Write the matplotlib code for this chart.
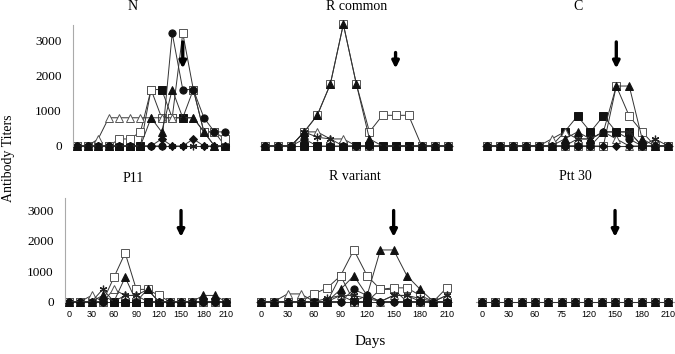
import matplotlib
matplotlib.use("Agg")
import matplotlib.pyplot as plt

days = list(range(0, 211, 15))
titles = ["N", "R common", "C", "P11", "R variant", "Ptt 30"]
yticks = [0, 1000, 2000, 3000]
xtick_pos = [0, 30, 60, 90, 120, 150, 180, 210]
xtick_labels = ["0", "30", "60", "90", "120", "150", "180", "210"]
xtick_labels_ptt = ["0", "30", "60", "75", "120", "150", "180", "210"]
boost_day = 150

# series per panel: filled square, open square, open triangle, asterisk, filled circle, diamond, filled triangle
N_fsq = [0, 0, 0, 0, 0, 0, 0, 1600, 1600, 800, 800, 1600, 400, 400, 0]
N_osq = [0, 0, 0, 0, 200, 200, 400, 1600, 800, 800, 3200, 1600, 400, 400, 200]
N_otr = [0, 0, 200, 800, 800, 800, 800, 800, 800, 800, 800, 800, 400, 0, 0]
N_ast = [0, 0, 0, 0, 0, 0, 0, 0, 0, 0, 0, 0, 0, 0, 0]
N_fci = [0, 0, 0, 0, 0, 0, 0, 0, 0, 3200, 1600, 1600, 800, 400, 400]
N_dia = [0, 0, 0, 0, 0, 0, 0, 0, 200, 0, 0, 200, 0, 0, 0]
N_ftr = [0, 0, 0, 0, 0, 0, 0, 800, 400, 1600, 800, 800, 400, 0, 0]

RC_fsq = [0, 0, 0, 0, 0, 0, 0, 0, 0, 0, 0, 0, 0, 0, 0]
RC_osq = [0, 0, 0, 400, 870, 1750, 3450, 1750, 400, 870, 870, 870, 0, 0, 0]
RC_otr = [0, 0, 0, 400, 400, 200, 200, 0, 0, 0, 0, 0, 0, 0, 0]
RC_ast = [0, 0, 0, 400, 250, 200, 0, 0, 0, 0, 0, 0, 0, 0, 0]
RC_fci = [0, 0, 0, 200, 0, 0, 0, 0, 0, 0, 0, 0, 0, 0, 0]
RC_dia = [0, 0, 0, 0, 0, 0, 0, 0, 0, 0, 0, 0, 0, 0, 0]
RC_ftr = [0, 0, 0, 400, 870, 1750, 3450, 1750, 200, 0, 0, 0, 0, 0, 0]

C_fsq = [0, 0, 0, 0, 0, 0, 400, 850, 400, 850, 400, 400, 0, 0, 0]
C_osq = [0, 0, 0, 0, 0, 0, 0, 0, 0, 0, 1700, 850, 400, 0, 0]
C_otr = [0, 0, 0, 0, 0, 200, 400, 200, 200, 400, 200, 0, 0, 0, 0]
C_ast = [0, 0, 0, 0, 0, 0, 0, 200, 200, 400, 400, 400, 0, 200, 0]
C_fci = [0, 0, 0, 0, 0, 0, 0, 0, 0, 400, 400, 200, 0, 0, 0]
C_dia = [0, 0, 0, 0, 0, 0, 0, 0, 0, 0, 0, 0, 0, 0, 0]
C_ftr = [0, 0, 0, 0, 0, 0, 200, 400, 200, 400, 1700, 1700, 200, 0, 0]

P_fsq = [0, 0, 0, 0, 0, 0, 0, 0, 0, 0, 0, 0, 0, 0, 0]
P_osq = [0, 0, 0, 0, 800, 1600, 400, 400, 200, 0, 0, 0, 0, 0, 0]
P_otr = [0, 0, 200, 0, 400, 200, 200, 400, 0, 0, 0, 0, 0, 0, 0]
P_ast = [0, 0, 0, 400, 0, 200, 200, 0, 0, 0, 0, 0, 0, 0, 0]
P_fci = [0, 0, 0, 0, 0, 0, 0, 0, 0, 0, 0, 0, 0, 0, 0]
P_dia = [0, 0, 0, 0, 0, 0, 0, 0, 0, 0, 0, 0, 0, 0, 0]
P_ftr = [0, 0, 0, 200, 0, 800, 0, 400, 0, 0, 0, 0, 200, 200, 0]

RV_fsq = [0, 0, 0, 0, 0, 0, 850, 0, 0, 400, 400, 0, 0, 0, 0]
RV_osq = [0, 0, 0, 0, 250, 450, 850, 1700, 850, 400, 450, 450, 200, 0, 450]
RV_otr = [0, 0, 250, 250, 0, 0, 200, 0, 200, 0, 200, 200, 0, 0, 200]
RV_ast = [0, 0, 0, 0, 0, 100, 200, 200, 100, 0, 200, 200, 100, 0, 200]
RV_fci = [0, 0, 0, 0, 0, 0, 0, 400, 200, 0, 0, 0, 0, 0, 0]
RV_dia = [0, 0, 0, 0, 0, 0, 0, 0, 0, 0, 0, 0, 0, 0, 0]
RV_ftr = [0, 0, 0, 0, 0, 0, 400, 850, 200, 1700, 1700, 850, 400, 0, 0]

PT_fsq = [0] * 15
PT_osq = [0] * 15
PT_otr = [0] * 15
PT_ast = [0] * 15
PT_fci = [0] * 15
PT_dia = [0] * 15
PT_ftr = [0] * 15

panels = [
    [N_fsq, N_osq, N_otr, N_ast, N_fci, N_dia, N_ftr],
    [RC_fsq, RC_osq, RC_otr, RC_ast, RC_fci, RC_dia, RC_ftr],
    [C_fsq, C_osq, C_otr, C_ast, C_fci, C_dia, C_ftr],
    [P_fsq, P_osq, P_otr, P_ast, P_fci, P_dia, P_ftr],
    [RV_fsq, RV_osq, RV_otr, RV_ast, RV_fci, RV_dia, RV_ftr],
    [PT_fsq, PT_osq, PT_otr, PT_ast, PT_fci, PT_dia, PT_ftr],
]
arrow_top = [2950, 2650, 2950, 3000, 3000, 3000]
arrow_tip = [2200, 2200, 2200, 2130, 2130, 2130]

styles = [
    dict(marker="s", mfc="#111111", mec="#111111", ms=5.2, mew=0.7),
    dict(marker="s", mfc="white", mec="#555555", ms=5.5, mew=0.7),
    dict(marker="^", mfc="white", mec="#555555", ms=5.5, mew=0.7),
    dict(marker=(6, 2, 0), mfc="none", mec="#222222", ms=5.5, mew=0.9),
    dict(marker="o", mfc="#111111", mec="#111111", ms=5.2, mew=0.7),
    dict(marker="D", mfc="#111111", mec="#111111", ms=3.8, mew=0.7),
    dict(marker="^", mfc="#111111", mec="#111111", ms=5.2, mew=0.7),
]

W, H = 675, 354
fig = plt.figure(figsize=(6.75, 3.54), dpi=100)

# pixel rectangles (left, right, top, bottom)
rects = [
    (72.8, 229.3, 25, 146),
    (259.8, 453.0, 25, 146),
    (481.8, 673.2, 25, 146),
    (64.8, 230.2, 197.5, 301.5),
    (255.7, 452.0, 197.5, 301.5),
    (476.4, 673.7, 197.5, 301.5),
]
title_pos = [(133, 6), (357, 6), (578, 6), (133, 178), (355, 177), (575, 177)]

serif = ["Liberation Serif", "DejaVu Serif"]
sans = ["Liberation Sans", "DejaVu Sans"]

for i, (rect, series) in enumerate(zip(rects, panels)):
    l, r, t, b = rect
    ax = fig.add_axes([l / W, 1 - b / H, (r - l) / W, (b - t) / H])
    ax.set_xlim(-6, 216)
    ax.set_ylim(0, 3430)
    for vals, st in zip(series, styles):
        ax.plot(days, vals, color="#333333", lw=0.7, clip_on=False, **st)
    for s in ["top", "right"]:
        ax.spines[s].set_visible(False)
    ax.spines["bottom"].set_color("#999999")
    ax.spines["bottom"].set_linewidth(0.8)
    ax.spines["bottom"].set_zorder(0)
    left_col = i in (0, 3)
    ax.spines["left"].set_visible(left_col)
    ax.spines["left"].set_color("#aaaaaa")
    ax.spines["left"].set_linewidth(0.8)
    if left_col:
        ax.set_yticks(yticks)
        ax.set_yticklabels([str(v) for v in yticks], fontfamily=serif, fontsize=9.5)
    else:
        ax.set_yticks([])
    ax.tick_params(axis="y", length=0, pad=8)
    if i >= 3:
        ax.set_xticks(xtick_pos)
        labs = xtick_labels_ptt if i == 5 else xtick_labels
        ax.set_xticklabels(labs, fontfamily=sans, fontsize=6.5)
        ax.tick_params(axis="x", length=0, pad=6)
    else:
        ax.set_xticks([])
    ax.patch.set_alpha(0)
    ax.annotate("", xy=(boost_day, arrow_tip[i]), xytext=(boost_day, arrow_top[i]),
                arrowprops=dict(arrowstyle="-|>", lw=2.4, color="black",
                                mutation_scale=10, shrinkA=0, shrinkB=0))
    tx, ty = title_pos[i]
    fig.text(tx / W, 1 - ty / H, titles[i], ha="center", va="center",
             fontfamily=serif, fontsize=10)

fig.text(9 / W, 1 - 158 / H, "Antibody Titers", rotation=90, ha="center", va="center",
         fontfamily=serif, fontsize=10)
fig.text(370 / W, 1 - 342 / H, "Days", ha="center", va="center",
         fontfamily=serif, fontsize=11)

fig.savefig("out.png", dpi=100)
